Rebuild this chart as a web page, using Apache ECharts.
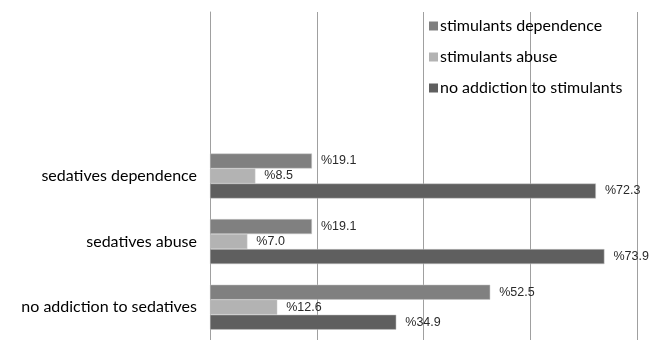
<!DOCTYPE html>
<html>
<head>
<meta charset="utf-8">
<script src="https://cdn.jsdelivr.net/npm/echarts@6/dist/echarts.min.js"></script>
<style>
  html, body { margin: 0; padding: 0; background: #fff; }
  #chart { width: 654px; height: 340px; }
</style>
</head>
<body>
<div id="chart"></div>
<script>
// Sedative groups (bottom to top on the category axis)
const categories = ['no addiction to sedatives', 'sedatives abuse', 'sedatives dependence'];

// Percentages per stimulant group, one value per sedative group
const noAddictionStimulants = [34.9, 73.9, 72.3];
const stimulantsAbuse = [12.6, 7.0, 8.5];
const stimulantsDependence = [52.5, 19.1, 19.1];

const legendOrder = ['stimulants dependence', 'stimulants abuse', 'no addiction to stimulants'];

const colors = {
  'no addiction to stimulants': '#5f5f5f',
  'stimulants abuse': '#b3b3b3',
  'stimulants dependence': '#808080'
};

const labelFont = 'Lato';

function makeSeries(name, values) {
  return {
    name: name,
    type: 'bar',
    data: values,
    barWidth: 15,
    barGap: '0%',
    itemStyle: { color: colors[name], borderColor: '#c8c8c8', borderWidth: 0.5 },
    label: {
      show: true,
      position: 'right',
      distance: 9,
      fontFamily: 'Liberation Sans',
      fontSize: 12.5,
      color: '#2a2a2a',
      formatter: p => '%' + p.value.toFixed(1)
    }
  };
}

const chart = echarts.init(document.getElementById('chart'), null, { renderer: 'canvas' });
chart.setOption({
  animation: false,
  backgroundColor: '#fff',
  grid: { left: 210, right: 17, top: 12, bottom: -6, containLabel: false },
  legend: {
    orient: 'vertical',
    left: 424,
    top: 13,
    itemWidth: 9,
    itemHeight: 9,
    itemGap: 15,
    icon: 'rect',
    data: legendOrder,
    itemStyle: { borderWidth: 0 },
    textStyle: { fontFamily: labelFont, fontSize: 16, color: '#000', padding: [0, 0, 0, -3] }
  },
  xAxis: {
    type: 'value',
    min: 0,
    max: 80,
    interval: 20,
    axisLabel: { show: false },
    axisTick: { show: false },
    axisLine: { show: false },
    splitLine: { show: true, lineStyle: { color: '#a0a0a0', width: 1 } }
  },
  yAxis: {
    type: 'category',
    data: categories,
    max: 4,
    axisTick: { show: false },
    axisLine: { show: true, lineStyle: { color: '#a0a0a0' } },
    axisLabel: { fontFamily: labelFont, fontSize: 16, color: '#000', margin: 13 }
  },
  // top-to-bottom inside each group: dependence, abuse, no addiction
  series: [
    makeSeries('stimulants dependence', stimulantsDependence),
    makeSeries('stimulants abuse', stimulantsAbuse),
    makeSeries('no addiction to stimulants', noAddictionStimulants)
  ]
});
</script>
</body>
</html>
